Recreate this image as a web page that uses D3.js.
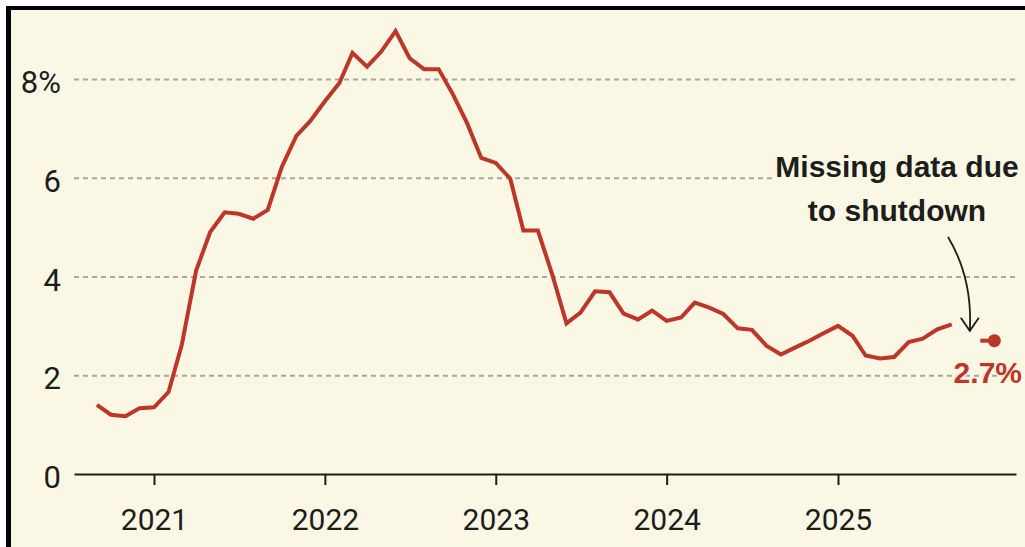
<!DOCTYPE html>
<html>
<head>
<meta charset="utf-8">
<script src="https://cdn.jsdelivr.net/npm/d3@7"></script>
<style>
  html, body { margin: 0; padding: 0; background: #ffffff; }
  svg { display: block; }
</style>
</head>
<body>
<svg id="chart" width="1025" height="547"></svg>
<script>
// monthly readings, Sep 2020 to Sep 2025 (%)
let startMonth = "2020-09";
let values = [
  1.4, 1.2, 1.17, 1.33,
  1.35, 1.66, 2.6, 4.12, 4.9, 5.3, 5.27, 5.17, 5.35, 6.22, 6.85, 7.15,
  7.55, 7.92, 8.53, 8.25, 8.55, 8.97, 8.42, 8.2, 8.2, 7.7, 7.1, 6.4,
  6.3, 5.98, 4.93, 4.93, 4.06, 3.05, 3.27, 3.7, 3.68, 3.25, 3.13, 3.31,
  3.1, 3.17, 3.47, 3.37, 3.24, 2.95, 2.92, 2.6, 2.42, 2.56, 2.7, 2.85,
  3.0, 2.8, 2.4, 2.34, 2.37, 2.67, 2.74, 2.93, 3.03
];
// Oct 2025 missing; November reading drawn across its month
let latestDates = ["2025-11-01", "2025-12-01"];
let latestValue = 2.7;
let latestLabel = "2.7%";

let yTicks = [0, 2, 4, 6, 8];
let yTickLabels = ["0", "2", "4", "6", "8%"];
let xTickYears = [2021, 2022, 2023, 2024, 2025];
let noteLines = ["Missing data due", "to shutdown"];

let bgColor = "#faf7e4";
let lineColor = "#be3628";
let textColor = "#1d1d1b";
let gridColor = "#a9a89b";

let left = 74, right = 1016, zeroY = 474, eightY = 79;

let svg = d3.select("#chart");
let parseMonth = d3.timeParse("%Y-%m");
let parseDay = d3.timeParse("%Y-%m-%d");

// frame: white margin, black top/left border, cream panel
svg.append("rect").attr("width", 1025).attr("height", 547).attr("fill", "#ffffff");
svg.append("rect").attr("x", 6).attr("y", 6).attr("width", 1019).attr("height", 541).attr("fill", "#000000");
svg.append("rect").attr("x", 11).attr("y", 10).attr("width", 1014).attr("height", 537).attr("fill", bgColor);

// x scale anchored on year ticks, then stretched to axis length
let x = d3.scaleTime()
  .domain([new Date(2021, 0, 1), new Date(2025, 0, 1)])
  .range([154, 838]);
x.domain([x.invert(left), x.invert(right)]).range([left, right]);

let y = d3.scaleLinear().domain([0, 8]).range([zeroY, eightY]);

let data = values.map(function(v, i) {
  return { date: d3.timeMonth.offset(parseMonth(startMonth), i), value: v };
});
let latest = latestDates.map(function(d) { return { date: parseDay(d), value: latestValue }; });

// gridlines
let yAxis = d3.axisLeft(y)
  .tickValues(yTicks.filter(function(t) { return t > 0; }))
  .tickSize(-(right - left))
  .tickFormat("");
let gy = svg.append("g").attr("transform", "translate(" + left + ",0)").call(yAxis);
gy.select(".domain").remove();
gy.selectAll(".tick line")
  .attr("stroke", gridColor)
  .attr("stroke-width", 2)
  .attr("stroke-dasharray", "5,4");

// y labels
svg.append("g").selectAll("text")
  .data(yTicks)
  .join("text")
  .attr("x", 61)
  .attr("y", function(d) { return y(d) + 14; })
  .attr("text-anchor", "end")
  .attr("font-family", "Roboto, sans-serif")
  .attr("font-size", 31)
  .attr("fill", textColor)
  .text(function(d, i) { return yTickLabels[i]; });

// x axis
let xAxis = d3.axisBottom(x)
  .tickValues(xTickYears.map(function(yr) { return new Date(yr, 0, 1); }))
  .tickSize(11)
  .tickSizeOuter(0)
  .tickFormat(d3.timeFormat("%Y"));
let gx = svg.append("g").attr("transform", "translate(0," + zeroY + ")").call(xAxis);
gx.select(".domain").attr("stroke", textColor).attr("stroke-width", 2.2);
gx.selectAll(".tick line").attr("stroke", textColor).attr("stroke-width", 2);
gx.selectAll(".tick text")
  .attr("y", 56)
  .attr("dy", 0)
  .attr("font-family", "Roboto, sans-serif")
  .attr("font-size", 30)
  .attr("fill", textColor);

// annotation (drawn before line, with panel-coloured backing)
let noteG = svg.append("g");
let noteText = noteG.append("text")
  .attr("x", 897)
  .attr("y", 177)
  .attr("text-anchor", "middle")
  .attr("font-family", "'Liberation Sans', Arial, sans-serif")
  .attr("font-weight", "bold")
  .attr("font-size", 30)
  .attr("fill", textColor);
noteText.selectAll("tspan")
  .data(noteLines)
  .join("tspan")
  .attr("x", 897)
  .attr("dy", function(d, i) { return i == 0 ? 0 : 44; })
  .text(function(d) { return d; });
let bb = noteText.node().getBBox();
noteG.insert("rect", "text")
  .attr("x", bb.x - 3)
  .attr("y", bb.y)
  .attr("width", bb.width + 6)
  .attr("height", bb.height)
  .attr("fill", bgColor);

// arrow to the gap month
let tipX = x(new Date(2025, 9, 1)) + 4;
let tipY = y(2.9);
svg.append("path")
  .attr("d", "M948,237 C963,262 972,292 " + tipX + "," + tipY)
  .attr("fill", "none")
  .attr("stroke", textColor)
  .attr("stroke-width", 1.8);
svg.append("path")
  .attr("d", "M" + (tipX - 9) + "," + (tipY - 13) + " L" + tipX + "," + tipY + " L" + (tipX + 9) + "," + (tipY - 13))
  .attr("fill", "none")
  .attr("stroke", textColor)
  .attr("stroke-width", 1.8);

// main line
let line = d3.line()
  .x(function(d) { return x(d.date); })
  .y(function(d) { return y(d.value); });

svg.append("path")
  .datum(data)
  .attr("d", line)
  .attr("fill", "none")
  .attr("stroke", lineColor)
  .attr("stroke-width", 4)
  .attr("stroke-linejoin", "miter");

svg.append("path")
  .datum(latest)
  .attr("d", line)
  .attr("fill", "none")
  .attr("stroke", lineColor)
  .attr("stroke-width", 4);

svg.append("circle")
  .attr("cx", x(latest[1].date))
  .attr("cy", y(latestValue))
  .attr("r", 6.5)
  .attr("fill", lineColor);

svg.append("text")
  .attr("x", 1022)
  .attr("y", y(latestValue) + 42)
  .attr("text-anchor", "end")
  .attr("font-family", "'Liberation Sans', Arial, sans-serif")
  .attr("font-weight", "bold")
  .attr("font-size", 30)
  .attr("fill", lineColor)
  .attr("stroke", bgColor)
  .attr("stroke-width", 3)
  .attr("paint-order", "stroke")
  .text(latestLabel);
</script>
</body>
</html>
